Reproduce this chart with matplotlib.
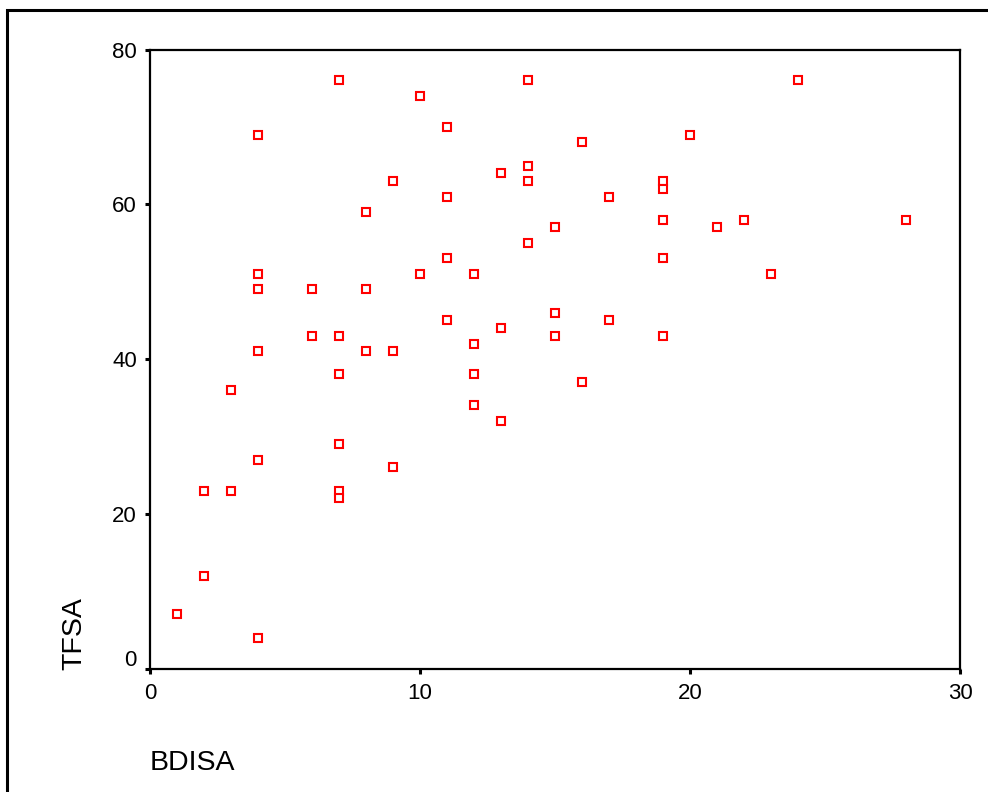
import numpy as np
import matplotlib
matplotlib.use("Agg")
import matplotlib.pyplot as plt
import matplotlib.patches as patches
import matplotlib.transforms as mtransforms

plt.rcParams['font.family'] = ['Liberation Sans', 'DejaVu Sans']

# BDISA / TFSA scores
bdisa = [1, 2, 2, 3, 3, 4, 4, 4, 4, 4, 4,
         6, 6, 7, 7, 7, 7, 7, 7, 8, 8, 8, 9, 9, 9,
         10, 10, 11, 11, 11, 11, 12, 12, 12, 12, 13, 13, 13,
         14, 14, 14, 14, 15, 15, 15, 16, 16, 17, 17,
         19, 19, 19, 19, 19, 20, 21, 22, 23, 24, 28]
tfsa = [7, 12, 23, 23, 36, 4, 27, 41, 49, 51, 69,
        49, 43, 43, 38, 29, 23, 22, 76, 41, 49, 59, 41, 26, 63,
        51, 74, 45, 53, 61, 70, 51, 42, 38, 34, 44, 32, 64,
        76, 65, 63, 55, 57, 46, 43, 37, 68, 61, 45,
        63, 62, 58, 53, 43, 69, 57, 58, 51, 76, 58]

xticks = [0, 10, 20, 30]
yticks = [0, 20, 40, 60, 80]

fig = plt.figure(figsize=(9.88, 7.92), dpi=100)
ax = fig.add_axes([150/988, 1 - 668.5/792, 810/988, 619/792])

ax.plot(bdisa, tfsa, linestyle='none', marker='s', markersize=6.2,
        markerfacecolor='white', markeredgecolor='#ff0000', markeredgewidth=1.5,
        clip_on=False)

ax.set_xlim(0, 30)
ax.set_ylim(0, 80)
ax.set_xticks(xticks)
ax.set_yticks(yticks)
ax.tick_params(direction='out', length=3.5, width=2.2, labelsize=16, pad=6)
ax.tick_params(axis='x', pad=7)

for s in ax.spines.values():
    s.set_linewidth(1.6)

# the 0 on the y axis sits a little above its tick
lab0 = ax.get_yticklabels()[0]
lab0.set_transform(lab0.get_transform() + mtransforms.ScaledTranslation(0, 11/100, fig.dpi_scale_trans))

fig.text(74/988, 1 - 670/792, 'TFSA', rotation=90, ha='center', va='bottom', fontsize=20.5)
fig.text(150/988, 1 - 770/792, 'BDISA', ha='left', va='baseline', fontsize=20.5)

# outer frame, running off the right and bottom edges
frame = patches.Rectangle((7/988, -0.05), 1.1, 1 - 10/792 + 0.05, transform=fig.transFigure,
                          fill=False, edgecolor='black', linewidth=2.2, clip_on=False)
fig.patches.append(frame)

fig.savefig('out.png', dpi=100)
